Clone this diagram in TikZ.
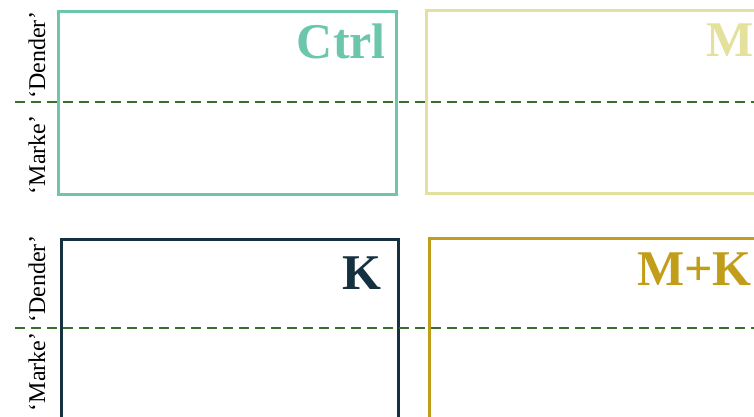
\documentclass[tikz,border=0pt]{standalone}
\usepackage{fontspec}
\setmainfont{Liberation Serif}
\newlength{\du}
\setlength{\du}{1pt}

\begin{document}
\begin{tikzpicture}[
	panel/.style={line width=3\du},
	cutline/.style={draw=cutgreen, line width=2.5\du, dash pattern=on 10\du off 6\du},
	tag/.style={font=\fontsize{50}{60}\selectfont\bfseries, anchor=base east, inner sep=0pt},
	side/.style={font=\fontsize{24}{28}\selectfont, rotate=90, anchor=base, inner sep=0pt}]
	\pgftransformxscale{1.000000}
	\pgftransformyscale{-1.000000}
	\definecolor{ctrlcolor}{rgb}{0.424, 0.776, 0.675}
	\definecolor{mcolor}{rgb}{0.894, 0.882, 0.612}
	\definecolor{kcolor}{rgb}{0.082, 0.188, 0.247}
	\definecolor{mkcolor}{rgb}{0.761, 0.616, 0.102}
	\definecolor{cutgreen}{rgb}{0.220, 0.440, 0.170}
	\useasboundingbox (0\du,0\du) rectangle (754\du,417\du);
	% panels
	\draw[panel, draw=ctrlcolor] (58\du,12\du) rectangle (396\du,194\du);
	\draw[panel, draw=mcolor] (426\du,11\du) rectangle (764\du,193\du);
	\draw[panel, draw=kcolor] (61\du,239\du) rectangle (398\du,421\du);
	\draw[panel, draw=mkcolor] (429\du,238\du) rectangle (767\du,420\du);
	% cut lines
	\coordinate (cuttop-w) at (15\du,102\du);
	\coordinate (cuttop-e) at (754\du,102\du);
	\coordinate (cutbot-w) at (15\du,328\du);
	\coordinate (cutbot-e) at (754\du,328\du);
	\draw[cutline] (cuttop-w) -- (cuttop-e);
	\draw[cutline] (cutbot-w) -- (cutbot-e);
	% titles
	\node[tag, text=ctrlcolor] (ctrl) at (386\du,59\du){Ctrl};
	\node[tag, text=mcolor] (m) at (754\du,57\du){M};
	\node[tag, text=kcolor] (k) at (382\du,289\du){K};
	\node[tag, text=mkcolor] (mk) at (752\du,285\du){M+K};
	% side labels
	\node[side] (dender-top) at (45\du,55\du){‘Dender’};
	\node[side] (marke-top) at (45\du,155\du){‘Marke’};
	\node[side] (dender-bot) at (45\du,279\du){‘Dender’};
	\node[side] (marke-bot) at (45\du,372\du){‘Marke’};
\end{tikzpicture}
\end{document}
